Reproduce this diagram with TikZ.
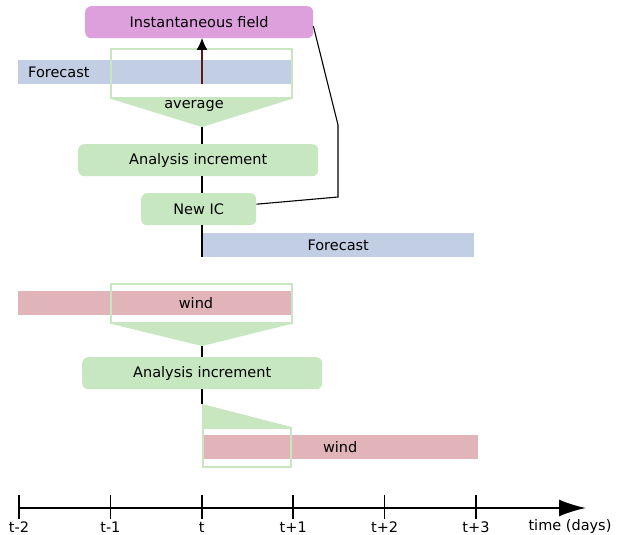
\documentclass[tikz,border=0pt]{standalone}
\usepackage{fontspec}
\setsansfont{DejaVu Sans}
\usetikzlibrary{positioning,arrows,arrows.meta}
\definecolor{instant}{HTML}{DDA0DD}
\definecolor{increment}{HTML}{C7E7C1}
\definecolor{forecast}{HTML}{C2CEE4}
\definecolor{wind}{HTML}{E1B4BA}
\definecolor{window}{HTML}{C8E6C0}
\definecolor{upline}{HTML}{5A1A1A}

\begin{document}
\begin{tikzpicture}[x=1pt,y=-1pt,font=\sffamily\fontsize{14.5}{17}\selectfont]
    \tikzstyle{box}=[rounded corners=6pt, inner sep=0pt, anchor=north west, minimum height=32pt]
    \tikzstyle{bar}=[inner sep=0pt, anchor=north west, minimum height=24pt]
    \tikzstyle{winbox}=[draw=window, line width=1.6pt, inner sep=0pt, anchor=north west]
    \tikzstyle{funnel}=[fill=window]
    \tikzstyle{link}=[line width=1.1pt]
    \useasboundingbox (0,0) rectangle (619,535);
    % upper row: averaged forecast
    \node[box,fill=instant,minimum width=228pt] (instant) at (85,6) {Instantaneous field};
    \node[bar,fill=forecast,minimum width=274pt,inner xsep=10pt,text width=254pt,align=left] (fcA) at (18,60) {Forecast};
    \node[winbox,minimum width=181pt,minimum height=49pt] (winA) at (110,48) {};
    \coordinate (tipA) at (202,127);
    \fill[funnel] (winA.south west) -- (winA.south east) -- (tipA) -- cycle;
    \node (avg) at (194,106) {average};
    \draw[upline,line width=1.1pt,-{Latex[length=12pt,width=11pt,black]}] (202,84) -- (202,38);
    \node[box,fill=increment,minimum width=240pt] (incrA) at (78,144) {Analysis increment};
    \node[box,fill=increment,minimum width=115pt] (newic) at (141,193) {New IC};
    \node[bar,fill=forecast,minimum width=272pt] (fcB) at (202,233) {Forecast};
    \coordinate (bendA) at (338,125);
    \coordinate (bendB) at (338,197);
    \draw[link] (tipA) -- (tipA |- incrA.north);
    \draw[link] (tipA |- incrA.south) -- (tipA |- newic.north);
    \draw[link] (fcB.north west |- newic.south) -- (fcB.south west);
    \draw[link] ([yshift=-4pt]instant.east) -- (bendA) -- (bendB) -- ([yshift=5pt]newic.east);
    % lower row: wind
    \node[bar,fill=wind,minimum width=273pt] (windA) at (18,291) {};
    \node (windlabel) at (196,303) {wind};
    \node[winbox,minimum width=181pt,minimum height=39pt] (winB) at (110,283) {};
    \coordinate (tipB) at (202,346);
    \fill[funnel] (winB.south west) -- (winB.south east) -- (tipB) -- cycle;
    \node[box,fill=increment,minimum width=240pt] (incrB) at (82,357) {Analysis increment};
    \coordinate (tipC) at (202,404);
    \node[bar,fill=wind,minimum width=276pt] (windB) at (202,435) {wind};
    \node[winbox,minimum width=88pt,minimum height=39pt] (winC) at (202,427) {};
    \fill[funnel] (tipC) -- (winC.north west) -- (winC.north east) -- cycle;
    \draw[link] (tipB) -- (tipB |- incrB.north);
    \draw[link] (tipB |- incrB.south) -- (tipC);
    % time axis
    \coordinate (origin) at (18,508);
    \coordinate (axisend) at (586,508);
    \draw[line width=2pt,-{Latex[length=27pt,width=17pt]}] (origin) -- (axisend);
    \foreach \lbl [count=\i from 0] in {t-2,t-1,t,t+1,t+2,t+3} {
        \draw[line width=1.6pt] (19+\i*91.4,495) -- (19+\i*91.4,519);
        \node (tick\i) at (19+\i*91.4,527) {\lbl};
    }
    \node[anchor=west] (timelabel) at (525,526) {time (days)};
\end{tikzpicture}
\end{document}
